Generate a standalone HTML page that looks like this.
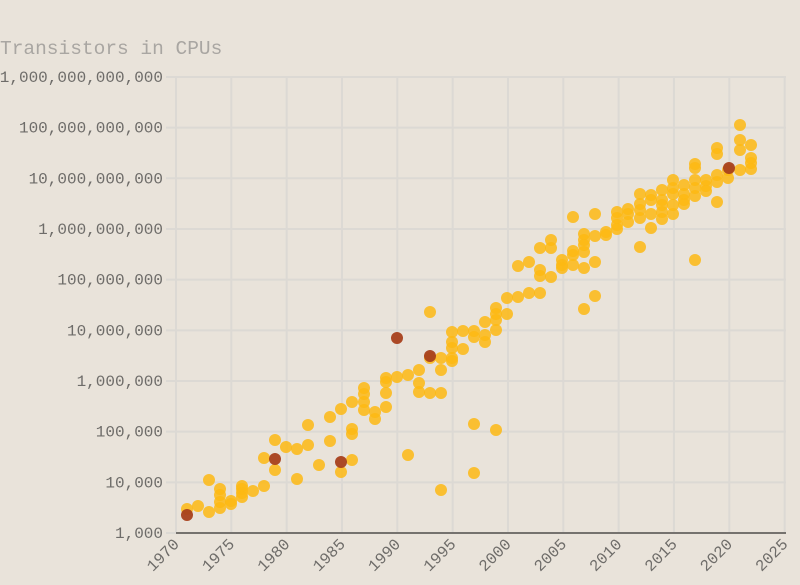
<!DOCTYPE html>
<html><head><meta charset="utf-8"><style>
body{margin:0;background:#e9e3da;}
svg{display:block;font-family:"Liberation Mono",monospace;}
</style></head><body>
<svg width="800" height="585" viewBox="0 0 800 585">
<rect width="800" height="585" fill="#e9e3da"/>
<text x="0" y="54" font-size="19.5" fill="#a9a6a2">Transistors in CPUs</text>
<g id="grid" stroke="#dcd9d4" stroke-width="2"></g>
<g id="labels" font-size="16" fill="#6e6c69"></g>
<line x1="176" y1="533" x2="786" y2="533" stroke="#75726e" stroke-width="2"/>
<g id="pts"></g>
</svg>
<script>
var ns="http://www.w3.org/2000/svg";
function el(t,a,p,txt){var e=document.createElementNS(ns,t);for(var k in a)e.setAttribute(k,a[k]);if(txt)e.textContent=txt;document.getElementById(p).appendChild(e);}
var yl=["1,000","10,000","100,000","1,000,000","10,000,000","100,000,000","1,000,000,000","10,000,000,000","100,000,000,000","1,000,000,000,000"];
for(var i=0;i<10;i++){var y=533-i*50.67;
el("line",{x1:166,x2:786,y1:y,y2:y},"grid");
el("text",{x:163,y:y+5,"text-anchor":"end"},"labels",yl[i]);}
for(var j=0;j<12;j++){var x=176+j*55.33;
el("line",{x1:x,x2:x,y1:77,y2:533},"grid");
el("text",{x:x+4,y:545,"text-anchor":"end",transform:"rotate(-45 "+(x+4)+" 545)"},"labels",String(1970+j*5));}
var P={187:[509],198:[506],209:[480,512],220:[489,495,502,508],231:[501,504],242:[486,489,493,497],253:[491],264:[458,486],275:[440,470],286:[447],297:[449,479],308:[425,445],319:[465],330:[417,441],341:[409,472],352:[402,429,434,460],364:[388,394,402,410],375:[412,419],386:[378,382,393,407],397:[377],408:[375,455],419:[370,383,392],430:[312,358,393],441:[358,370,393,490],452:[332,342,348,358,361],463:[331,349],474:[331,337,424,473],485:[322,335,342],496:[308,314,320,330,430],507:[298,314],518:[266,297],529:[262,293],540:[248,270,276,293],551:[240,248,277],562:[260,265,268],573:[217,251,255,265],584:[234,240,245,252,268,309],595:[214,236,262,296],606:[232,235],617:[212,218,225,229],628:[209,214,222],640:[194,204,210,218,247],651:[195,200,214,228],662:[190,200,205,212,219],673:[180,188,194,205,214],684:[185,194,200,204],695:[164,168,180,188,196,260],706:[180,186,191],717:[148,154,175,182,202],728:[170,178],740:[125,140,150,170],751:[145,158,163,169]};
for(var x in P)P[x].forEach(function(y){el("circle",{cx:x,cy:y,r:6,fill:"#fdb913","fill-opacity":0.85},"pts");});
[[187,515],[275,459],[341,462],[397,338],[430,356],[729,168]].forEach(function(p){el("circle",{cx:p[0],cy:p[1],r:6,fill:"#a8401c","fill-opacity":0.95},"pts");});
</script>
</body></html>
